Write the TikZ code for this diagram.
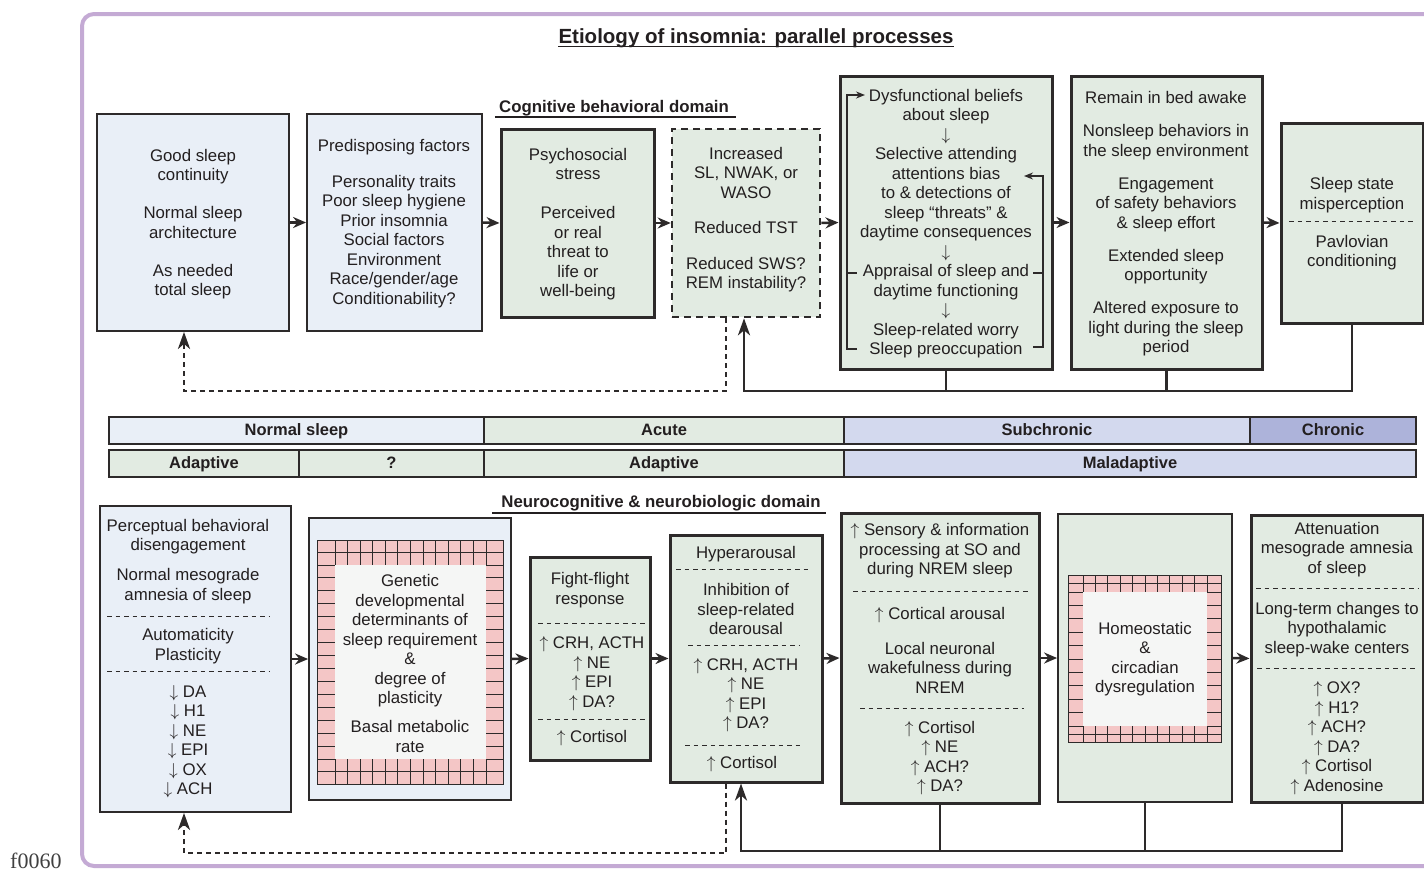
\documentclass[tikz,border=0pt]{standalone}
\usepackage{fontspec}
\setmainfont{Liberation Sans}
\newfontfamily\figfont{Liberation Serif}
\usetikzlibrary{arrows.meta}
\definecolor{bluefill}{RGB}{233,239,247}
\definecolor{greenfill}{RGB}{226,235,226}
\definecolor{lavfill}{RGB}{211,217,238}
\definecolor{chronfill}{RGB}{173,179,218}
\definecolor{pinkfill}{RGB}{244,198,198}
\definecolor{innerfill}{RGB}{245,246,245}
\definecolor{purpleframe}{RGB}{196,170,212}
\definecolor{ink}{RGB}{35,31,32}
\definecolor{edge}{RGB}{45,42,42}
\newcommand\up{$\uparrow$}
\newcommand\dn{$\downarrow$}
\newcommand\brickframe[8]{%
 \fill[pinkfill] (#1,#2) rectangle (#3,#4);
 \fill[innerfill] (#5,#6) rectangle (#7,#8);
 \pgfmathtruncatemacro\bfnc{round((#7-#5)/12.6)}%
 \pgfmathsetmacro\bfdc{(#7-#5)/\bfnc}%
 \pgfmathtruncatemacro\bfnr{round((#8-#6)/12.8)}%
 \pgfmathsetmacro\bfdr{(#8-#6)/\bfnr}%
 \begin{scope}[line width=0.9pt, color=edge]
 \draw (#1,{(#2+#6)/2}) -- (#3,{(#2+#6)/2});
 \draw (#1,{(#4+#8)/2}) -- (#3,{(#4+#8)/2});
 \foreach \i in {0,...,\bfnc} {
   \draw ({#5+\i*\bfdc},#2) -- ({#5+\i*\bfdc},#6);
   \draw ({#5+\i*\bfdc},#8) -- ({#5+\i*\bfdc},#4);
 }
 \foreach \j in {0,...,\bfnr} {
   \draw (#1,{#6+\j*\bfdr}) -- (#5,{#6+\j*\bfdr});
   \draw (#7,{#6+\j*\bfdr}) -- (#3,{#6+\j*\bfdr});
 }
 \draw (#1,#2) rectangle (#3,#4);
 \end{scope}
}
\begin{document}
\begin{tikzpicture}[x=1pt,y=-1pt,
  box/.style={draw=edge, rectangle, inner sep=0pt, line width=1.8pt},
  thickbox/.style={box, line width=3pt},
  txt/.style={align=center, inner sep=0pt, text=ink, font=\fontsize{16.8}{19.5}\selectfont},
  lbl/.style={inner sep=0pt, text=ink, font=\bfseries\fontsize{16.8}{19.5}\selectfont},
  band/.style={draw=edge, line width=2pt, inner sep=0pt, minimum height=27pt, text height=12pt, text depth=3pt, text=ink, font=\bfseries\fontsize{16.5}{19}\selectfont},
  flow/.style={draw=edge, line width=2.5pt, -{Stealth[length=13pt,width=11pt]}},
  fb/.style={draw=edge, line width=2.8pt},
  fbtip/.style={-{Stealth[length=17pt,width=12pt,inset=5pt]}},
  fbdash/.style={fb, dash pattern=on 5pt off 4pt},
  sep/.style={draw=edge, line width=1pt, dash pattern=on 4.5pt off 4pt},
  brk/.style={draw=edge, line width=1.8pt},
  brktip/.style={-{Stealth[length=9pt,width=7pt]}}
]
\useasboundingbox (0,0) rectangle (1424,870);
\clip (0,0) rectangle (1424,870);
\fill[white] (0,0) rectangle (1424,870);
% outer frame
\draw[purpleframe, line width=4pt, rounded corners=12pt] (82,14) rectangle (1470,866);
\node[inner sep=0pt, anchor=base west, text=black!75, font=\figfont\fontsize{22}{24}\selectfont] (fig) at (10,868) {f0060};
% title
\node[lbl, anchor=base, font=\bfseries\fontsize{20.5}{24}\selectfont] (title) at (756,43) {Etiology of insomnia: parallel processes};
\draw[ink, line width=1.3pt] ([yshift=-3.5pt]title.base west) -- ([yshift=-3.5pt]title.base east);
\node[lbl, anchor=base] (cbdom) at (614,112) {Cognitive behavioral domain};
\draw[ink, line width=1.3pt] ([xshift=-4pt,yshift=-5pt]cbdom.base west) -- ([xshift=7pt,yshift=-5pt]cbdom.base east);
\node[lbl, anchor=base] (nndom) at (661,507) {Neurocognitive \& neurobiologic domain};
\draw[ink, line width=1.3pt] ([xshift=-9pt,yshift=-6pt]nndom.base west) -- ([xshift=5pt,yshift=-6pt]nndom.base east);

% ---------- top row ----------
\node[box, fill=bluefill, minimum width=192pt, minimum height=217pt] (A) at (193,222.5) {};
\node[box, fill=bluefill, minimum width=175pt, minimum height=217pt] (B) at (394.5,222.5) {};
\node[thickbox, fill=greenfill, minimum width=153pt, minimum height=188pt] (C) at (577.5,223) {};
\node[box, line width=2.6pt, dash pattern=on 7pt off 5pt, fill=greenfill, minimum width=148pt, minimum height=188pt] (D) at (746,223) {};
\node[thickbox, fill=greenfill, minimum width=212pt, minimum height=293pt] (E) at (946,222.5) {};
\node[thickbox, fill=greenfill, minimum width=191pt, minimum height=293pt] (F) at (1166.5,222.5) {};
\node[thickbox, fill=greenfill, minimum width=142pt, minimum height=200pt] (G) at (1352,223) {};

\node[txt] (tA) at (193,224) {Good sleep\\continuity\\[18.5pt]Normal sleep\\architecture\\[18.5pt]As needed\\total sleep};
\node[txt] (tB) at (394,223.5) {Predisposing factors\\[16.5pt]Personality traits\\Poor sleep hygiene\\Prior insomnia\\Social factors\\Environment\\Race/gender/age\\Conditionability?};
\node[txt] (tC) at (578,224) {Psychosocial\\stress\\[19.5pt]Perceived\\or real\\threat to\\life or\\well-being};
\node[txt] (tD) at (746,219.5) {Increased\\SL, NWAK, or\\WASO\\[15.5pt]Reduced TST\\[16.5pt]Reduced SWS?\\REM instability?};
\node[txt] (tE) at (946,223.5) {Dysfunctional beliefs\\about sleep\\\dn\\Selective attending\\attentions bias\\to \& detections of\\sleep “threats” \&\\daytime consequences\\\dn\\Appraisal of sleep and\\daytime functioning\\\dn\\Sleep-related worry\\Sleep preoccupation};
\node[txt] (tF) at (1166,224) {Remain in bed awake\\[13.5pt]Nonsleep behaviors in\\the sleep environment\\[13.5pt]Engagement\\of safety behaviors\\\& sleep effort\\[13.5pt]Extended sleep\\opportunity\\[13.5pt]Altered exposure to\\light during the sleep\\period};
\node[txt] (tG1) at (1352,195) {Sleep state\\misperception};
\node[txt] (tG2) at (1352,252.5) {Pavlovian\\conditioning};
\draw[sep] (1289,221) -- (1414,221);

% bracket loop inside E
\draw[brk, brktip] (857,349) -- (847,349) -- (847,95) -- (865,95);
\draw[brk] (847,273) -- (857,273);
\draw[brk, brktip] (1033,347) -- (1043,347) -- (1043,176) -- (1024,176);
\draw[brk] (1033,273) -- (1043,273);

% flow arrows top
\draw[flow] (A.east) -- (B.west);
\draw[flow] (B.east) -- (C.west);
\draw[flow] (C.east) -- (D.west);
\draw[flow] (D.east) -- (E.west);
\draw[flow] (E.east) -- (F.west);
\draw[flow] (F.east) -- (G.west);

% feedback top
\coordinate (cbus) at (744,391);
\coordinate (dbus) at (184,391);
\draw[fb] (G.south) |- (E.south |- cbus);
\draw[fb] (F.south) -- (F.south |- cbus);
\draw[fb, fbtip] (E.south) |- (cbus) -- (cbus |- D.south);
\draw[fbdash, fbtip] ([xshift=-20pt]D.south) |- (dbus) -- (dbus |- A.south);

% ---------- bands ----------
\node[band, fill=bluefill, minimum width=375pt] (b11) at (296.5,430.5) {Normal sleep};
\node[band, fill=greenfill, minimum width=360pt] (b12) at (664,430.5) {Acute};
\node[band, fill=lavfill, minimum width=406pt] (b13) at (1047,430.5) {Subchronic};
\node[band, fill=chronfill, minimum width=166pt] (b14) at (1333,430.5) {Chronic};
\node[band, fill=greenfill, minimum width=190pt] (b21) at (204,463.5) {Adaptive};
\node[band, fill=greenfill, minimum width=185pt] (b22) at (391.5,463.5) {?};
\node[band, fill=greenfill, minimum width=360pt] (b23) at (664,463.5) {Adaptive};
\node[band, fill=lavfill, minimum width=572pt] (b24) at (1130,463.5) {Maladaptive};

% ---------- bottom row ----------
\node[box, fill=bluefill, minimum width=191pt, minimum height=306pt] (H) at (195.5,659) {};
\node[box, fill=bluefill, minimum width=202pt, minimum height=282pt] (I) at (410,659) {};
\node[thickbox, fill=greenfill, minimum width=120pt, minimum height=203pt] (J) at (590,658.5) {};
\node[thickbox, fill=greenfill, minimum width=152pt, minimum height=247pt] (K) at (746,658.5) {};
\node[thickbox, fill=greenfill, minimum width=198pt, minimum height=290pt] (L) at (940,658) {};
\node[box, fill=greenfill, minimum width=174pt, minimum height=288pt] (M) at (1145,658) {};
\node[thickbox, fill=greenfill, minimum width=172pt, minimum height=287pt] (N) at (1337,658.5) {};

\brickframe{317}{540}{503}{784}{335}{565}{486}{759}
\brickframe{1068}{575}{1221}{742}{1083}{592}{1207}{726}

% H texts
\node[txt] (tH1) at (188,561.5) {Perceptual behavioral\\disengagement\\[10.5pt]Normal mesograde\\amnesia of sleep};
\draw[sep] (107,616) -- (270,616);
\node[txt] (tH2) at (188,646) {Automaticity\\Plasticity};
\draw[sep] (107,671) -- (270,671);
\node[txt] (tH3) at (188,741.5) {\dn\ DA\\\dn\ H1\\\dn\ NE\\\dn\ EPI\\\dn\ OX\\\dn\ ACH};
% I text
\node[txt] (tI) at (410,663.5) {Genetic\\developmental\\determinants of\\sleep requirement\\\&\\degree of\\plasticity\\[9.5pt]Basal metabolic\\rate};
% J texts
\node[txt] (tJ1) at (590,590) {Fight-flight\\response};
\draw[sep] (538,623) -- (645,623);
\node[txt] (tJ2) at (592,673.5) {\up\ CRH, ACTH\\\up\ NE\\\up\ EPI\\\up\ DA?};
\draw[sep] (538,719) -- (645,719);
\node[txt] (tJ3) at (592,738) {\up\ Cortisol};
% K texts
\node[txt] (tK1) at (746,554) {Hyperarousal};
\draw[sep] (676,569) -- (810,569);
\node[txt] (tK2) at (746,609) {Inhibition of\\sleep-related\\dearousal};
\draw[sep] (688,645) -- (800,645);
\node[txt] (tK3) at (746,695) {\up\ CRH, ACTH\\\up\ NE\\\up\ EPI\\\up\ DA?};
\draw[sep] (685,745) -- (800,745);
\node[txt] (tK4) at (742,764) {\up\ Cortisol};
% L texts
\node[txt] (tL1) at (940,551) {\up\ Sensory \& information\\processing at SO and\\during NREM sleep};
\draw[sep] (853,591) -- (1030,591);
\node[txt] (tL2) at (940,650) {\up\ Cortical arousal\\[15.5pt]Local neuronal\\wakefulness during\\NREM};
\draw[sep] (860,708) -- (1024,708);
\node[txt] (tL3) at (940,758) {\up\ Cortisol\\\up\ NE\\\up\ ACH?\\\up\ DA?};
% M text
\node[txt] (tM) at (1145,659) {Homeostatic\\\&\\circadian\\dysregulation};
% N texts
\node[txt] (tN1) at (1337,549.5) {Attenuation\\mesograde amnesia\\of sleep};
\draw[sep] (1256,588) -- (1418,588);
\node[txt] (tN2) at (1337,629.5) {Long-term changes to\\hypothalamic\\sleep-wake centers};
\draw[sep] (1257,668) -- (1418,668);
\node[txt] (tN3) at (1337,738) {\up\ OX?\\\up\ H1?\\\up\ ACH?\\\up\ DA?\\\up\ Cortisol\\\up\ Adenosine};

% flow arrows bottom
\draw[flow] (H.east) -- (I.west);
\draw[flow] (I.east) -- (J.west);
\draw[flow] (J.east) -- (K.west);
\draw[flow] (K.east) -- (L.west);
\draw[flow] (L.east) -- (M.west);
\draw[flow] (M.east) -- (N.west);

% feedback bottom
\coordinate (cbus2) at (741,851);
\coordinate (dbus2) at (184,853);
\draw[fb] ([xshift=5pt]N.south) |- (L.south |- cbus2);
\draw[fb] (M.south) -- (M.south |- cbus2);
\draw[fb, fbtip] (L.south) |- (cbus2) -- (cbus2 |- K.south);
\draw[fbdash, fbtip] ([xshift=-20pt]K.south) |- (dbus2) -- (dbus2 |- H.south);
\end{tikzpicture}
\end{document}
